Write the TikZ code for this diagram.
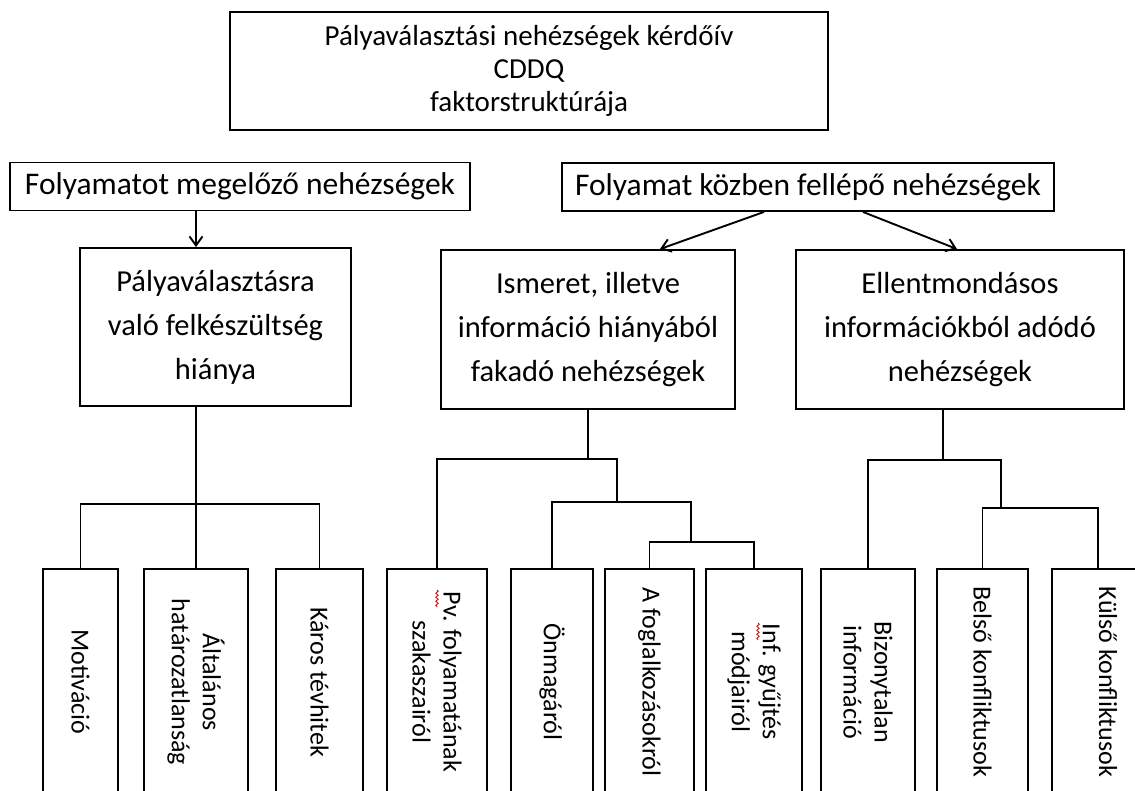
\documentclass[tikz,border=0pt]{standalone}
\usepackage{fontspec}
\setmainfont{Carlito}
\usetikzlibrary{arrows.meta,decorations.pathmorphing}
\begin{document}
\begin{tikzpicture}[x=1pt,y=-1pt,line width=1.9pt,
  box/.style={draw=black, line width=1.9pt, inner sep=0pt, align=center, text=black},
  lone/.style={box, font={\fontsize{31.5}{36}\selectfont}},
  big/.style={box, font={\fontsize{30.5}{44}\selectfont}},
  leaf/.style={draw=black, line width=1.9pt, inner sep=0pt, minimum height=226pt},
  leaftext/.style={rotate=-90, align=center, inner sep=0pt, text=black, font={\fontsize{26}{31}\selectfont}},
  arr/.style={-{Straight Barb[length=9pt,width=13pt]}, line width=1.9pt},
  squig/.style={draw=red!80!black, line width=0.8pt, decorate, decoration={snake, amplitude=1.2pt, segment length=4pt}}
]
\useasboundingbox (0,0) rectangle (1135,791);
\clip (0,0) rectangle (1135,791);

% top
\node[box, minimum width=598pt, minimum height=118pt, font={\fontsize{29}{33}\selectfont}] (title) at (529,71)
  {Pályaválasztási nehézségek kérdőív\\CDDQ\\faktorstruktúrája};

% level 1
\node[lone, minimum width=460pt, minimum height=48pt] (A) at (240,186.5) {Folyamatot megelőző nehézségek};
\node[lone, minimum width=492pt, minimum height=48pt] (B) at (808,187) {Folyamat közben fellépő nehézségek};

% level 2
\node[big, minimum width=271pt, minimum height=158pt] (C) at (215.5,327) {Pályaválasztásra\\való felkészültség\\hiánya};
\node[big, minimum width=294pt, minimum height=159pt] (D) at (588,329.5) {Ismeret, illetve\\információ hiányából\\fakadó nehézségek};
\node[big, minimum width=328pt, minimum height=159pt] (E) at (960,329.5) {Ellentmondásos\\információkból adódó\\nehézségek};

% leaves
\node[leaf, minimum width=75pt]  (mot) at (80.5,682) {};
\node[leaf, minimum width=104pt] (alt) at (196,682) {};
\node[leaf, minimum width=87pt]  (kar) at (319.5,682) {};
\node[leaf, minimum width=100pt] (pv)  at (437,682) {};
\node[leaf, minimum width=82pt]  (onm) at (552,682) {};
\node[leaf, minimum width=89pt]  (fog) at (649.5,682) {};
\node[leaf, minimum width=96pt]  (inf) at (754,682) {};
\node[leaf, minimum width=94pt]  (biz) at (868,682) {};
\node[leaf, minimum width=91pt]  (bel) at (982.5,682) {};
\node[leaf, minimum width=112pt] (kul) at (1108,682) {};

\node[leaftext] (mot-t) at (mot) {Motiváció};
\node[leaftext] (alt-t) at (alt) {Általános\\határozatlanság};
\node[leaftext] (kar-t) at (kar) {Káros tévhitek};
\node[leaftext] (pv-t)  at (pv)  {Pv. folyamatának\\szakaszairól};
\node[leaftext] (onm-t) at (onm) {Önmagáról};
\node[leaftext] (fog-t) at (fog) {A foglalkozásokról};
\node[leaftext] (inf-t) at (inf) {Inf. gyűjtés\\módjairól};
\node[leaftext] (biz-t) at (biz) {Bizonytalan\\információ};
\node[leaftext] (bel-t) at (bel) {Belső konfliktusok};
\node[leaftext] (kul-t) at (kul) {Külső konfliktusok};

% spell-check marks
\draw[squig] (437,590) -- (437,607);
\draw[squig] (758,623) -- (758,640);

% helper coordinates
\coordinate (xa)  at (196,0);
\coordinate (xb1) at (764,0);
\coordinate (xb2) at (863,0);
\coordinate (xd1) at (660,0);
\coordinate (xe1) at (957,0);
\coordinate (xe)  at (943,0);
\coordinate (xd2) at (617,0);
\coordinate (xd3) at (691,0);
\coordinate (xe2) at (1001,0);
\coordinate (xk)  at (1098,0);
\coordinate (yc)  at (0,504);
\coordinate (yd1) at (0,459);
\coordinate (yd2) at (0,502);
\coordinate (yd3) at (0,542);
\coordinate (ye1) at (0,460);
\coordinate (ye2) at (0,508);

% arrows
\draw[arr] (A.south -| xa) -- (C.north -| xa);
\draw[arr] (B.south -| xb1) -- (D.north -| xd1);
\draw[arr] (B.south -| xb2) -- (E.north -| xe1);

% tree under C
\draw (C.south -| xa) -- (alt.north);
\draw (mot.north) |- (kar.north |- yc) -- (kar.north);

% tree under D
\draw (D.south) -- (D.south |- yd1);
\draw (pv.north) |- (xd2 |- yd1) -- (xd2 |- yd2);
\draw (onm.north) |- (xd3 |- yd2) -- (xd3 |- yd3);
\draw (fog.north) |- (inf.north |- yd3) -- (inf.north);

% tree under E
\draw (E.south -| xe) -- (xe |- ye1);
\draw (biz.north) |- (xe2 |- ye1) -- (xe2 |- ye2);
\draw (bel.north) |- (xk |- ye2) -- (kul.north -| xk);
\end{tikzpicture}
\end{document}
